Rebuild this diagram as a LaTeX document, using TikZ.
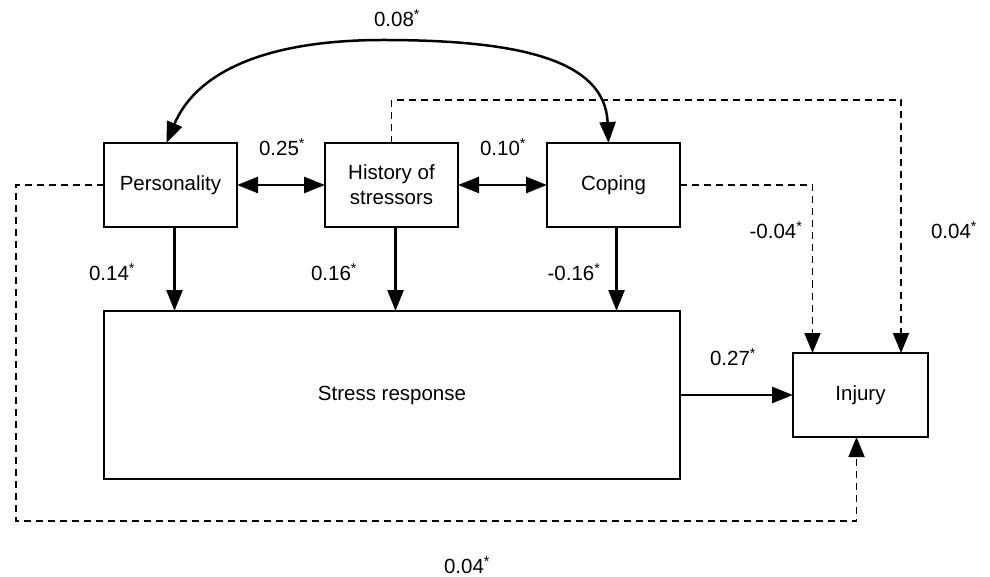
\documentclass[tikz,border=0pt]{standalone}
\usepackage{fontspec}
\setmainfont{Liberation Sans}
\usetikzlibrary{arrows.meta}
\begin{document}
\begin{tikzpicture}[x=1pt,y=-1pt,
  box/.style={draw, line width=1.8pt, outer sep=0pt, inner sep=2pt, align=center,
    font=\fontsize{20.5}{25}\selectfont},
  lbl/.style={font=\fontsize{20.5}{25}\selectfont, inner sep=0pt},
  solidarr/.style={line width=2.5pt, -{Triangle[length=21pt,width=16pt]}},
  dblarr/.style={line width=2.5pt, {Triangle[length=21pt,width=16pt]}-{Triangle[length=21pt,width=16pt]}},
  dasharr/.style={line width=1.8pt, dash pattern=on 7pt off 5pt, -{Triangle[length=20pt,width=16pt]}}
]
\useasboundingbox (0,0) rectangle (990,577);
\node[box, minimum width=133pt, minimum height=84pt] (pers) at (170.5,185) {Personality};
\node[box, minimum width=133pt, minimum height=84pt] (hist) at (391.5,185) {History of\\stressors};
\node[box, minimum width=133pt, minimum height=84pt] (cop) at (613.5,185) {Coping};
\node[box, minimum width=576pt, minimum height=168pt] (stress) at (392,395) {Stress response};
\node[box, minimum width=135pt, minimum height=84pt] (inj) at (860.5,395) {Injury};

\coordinate (c1) at (16,521);
\coordinate (c2) at (901,100);
\coordinate (peak) at (383,40);

% correlations
\draw[dblarr] (pers.east) -- (hist.west);
\draw[dblarr] (hist.east) -- (cop.west);
\draw[dblarr] ([xshift=-5pt]cop.north) .. controls (605,60) and (520,40) .. (peak)
  .. controls (260,40) and (195,75) .. ([xshift=-4pt]pers.north);

% paths to stress response
\draw[solidarr] ([xshift=4pt]pers.south) -- ([xshift=4pt]pers.south |- stress.north);
\draw[solidarr] ([xshift=4pt]hist.south) -- ([xshift=4pt]hist.south |- stress.north);
\draw[solidarr] ([xshift=3pt]cop.south) -- ([xshift=3pt]cop.south |- stress.north);
\draw[solidarr] (stress.east |- inj.west) -- (inj.west);

% dashed paths to injury
\draw[dasharr] (pers.west) -| (c1) -| ([xshift=-4pt]inj.south);
\draw[dasharr] (hist.north) |- (c2) -- (c2 |- inj.north);
\draw[dasharr] (cop.east) -| ([xshift=-48pt]inj.north);

% labels
\node[lbl] (l008) at (397,18) {0.08\textsuperscript{*}};
\node[lbl] (l025) at (282,147) {0.25\textsuperscript{*}};
\node[lbl] (l010) at (503,147) {0.10\textsuperscript{*}};
\node[lbl] (l014) at (112,272) {0.14\textsuperscript{*}};
\node[lbl] (l016) at (334,272) {0.16\textsuperscript{*}};
\node[lbl] (lm016) at (574,272) {-0.16\textsuperscript{*}};
\node[lbl] (lm004) at (776,230) {-0.04\textsuperscript{*}};
\node[lbl] (l004a) at (954,230) {0.04\textsuperscript{*}};
\node[lbl] (l027) at (733,357) {0.27\textsuperscript{*}};
\node[lbl] (l004b) at (467,565) {0.04\textsuperscript{*}};
\end{tikzpicture}
\end{document}
